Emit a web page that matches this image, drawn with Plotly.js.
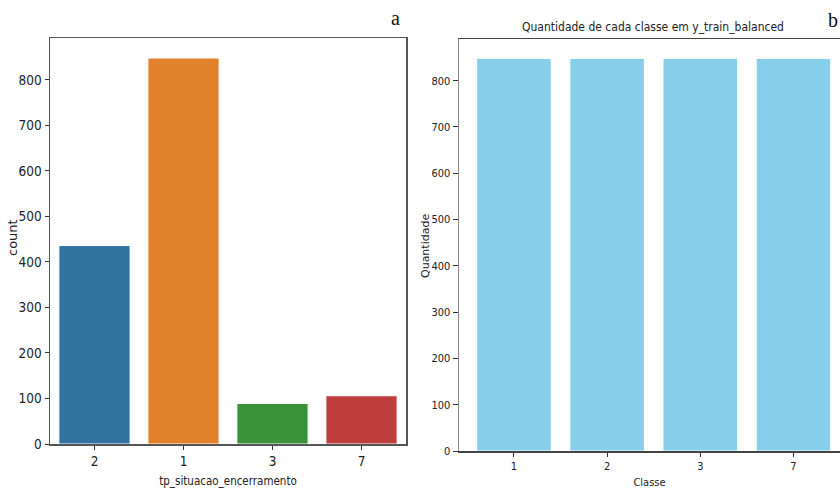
<!DOCTYPE html>
<html><head><meta charset="utf-8">
<script src="https://cdn.plot.ly/plotly-3.0.1.min.js"></script>
<style>body{margin:0;padding:0;background:#fff}#chart{width:840px;height:491px}</style>
</head><body><div id="chart"></div>
<script>
// Panel a: original class counts
const catsA = ['2', '1', '3', '7'];
const countsA = [436, 848, 89, 106];
const colorsA = ['#3274a1', '#e1812c', '#3a923a', '#c03d3e'];
// Panel b: balanced class counts
const catsB = ['1', '2', '3', '7'];
const countsB = [848, 848, 848, 848];
const colorB = '#87ceeb';
const yTicks = [0, 100, 200, 300, 400, 500, 600, 700, 800];

const FONT = '"Liberation Sans Narrow", "DejaVu Sans Condensed", "DejaVu Sans", sans-serif';

const traces = [
  {type: 'bar', x: catsA, y: countsA, marker: {color: colorsA, line: {color: '#ffffff', width: 1}},
   width: 0.8, xaxis: 'x', yaxis: 'y', hoverinfo: 'x+y'},
  {type: 'bar', x: catsB, y: countsB, marker: {color: colorB, line: {color: '#ffffff', width: 1}},
   width: 0.8, xaxis: 'x2', yaxis: 'y2', hoverinfo: 'x+y'}
];

const layout = {
  width: 840, height: 491,
  margin: {l: 0, r: 0, t: 0, b: 0},
  paper_bgcolor: '#ffffff', plot_bgcolor: '#ffffff',
  showlegend: false,
  font: {family: FONT, color: '#222'},
  xaxis: {
    domain: [50/840, 406/840], anchor: 'y', type: 'category', range: [-0.5, 3.5],
    showline: true, linecolor: '#555', linewidth: 1.5, mirror: true,
    ticks: 'outside', ticklen: 4, tickcolor: '#333', showgrid: false, zeroline: false,
    tickfont: {size: 13.5, family: FONT, color: '#222'},
    title: {text: 'tp_situacao_encerramento', font: {size: 11.5, family: FONT, color: '#222'}, standoff: 9}
  },
  yaxis: {
    domain: [(491-444)/491, (491-38)/491], anchor: 'x', range: [0, 892],
    tickvals: yTicks,
    showline: true, linecolor: '#555', linewidth: 1.5, mirror: true,
    ticks: 'outside', ticklen: 4, tickcolor: '#333', showgrid: false, zeroline: false,
    tickfont: {size: 13.5, family: FONT, color: '#222'}
  },
  xaxis2: {
    domain: [459/840, 1], anchor: 'y2', type: 'category', range: [-0.59, 3.5],
    showline: true, linecolor: '#444', linewidth: 1.5, mirror: true,
    ticks: 'outside', ticklen: 4, tickcolor: '#333', showgrid: false, zeroline: false,
    tickfont: {size: 11, family: FONT, color: '#222'},
    title: {text: 'Classe', font: {size: 11, family: FONT, color: '#222'}, standoff: 6}
  },
  yaxis2: {
    domain: [(491-451)/491, (491-39)/491], anchor: 'x2', range: [0, 890],
    tickvals: yTicks,
    showline: true, linecolor: '#888', linewidth: 1.5, mirror: false,
    ticks: 'outside', ticklen: 5, tickcolor: '#333', showgrid: false, zeroline: false,
    tickfont: {size: 11, family: FONT, color: '#222'}
  },
  annotations: [
    {text: 'count', xref: 'paper', yref: 'paper', x: 12/840, y: (491-238)/491, textangle: -90,
     xanchor: 'center', yanchor: 'middle', showarrow: false,
     font: {size: 13, family: 'DejaVu Sans', color: '#222'}},
    {text: 'Quantidade', xref: 'paper', yref: 'paper', x: 426/840, y: (491-246)/491, textangle: -90,
     xanchor: 'center', yanchor: 'middle', showarrow: false,
     font: {size: 11, family: 'DejaVu Sans', color: '#222'}},
    {text: 'Quantidade de cada classe em y_train_balanced', xref: 'paper', yref: 'paper',
     x: 653/840, y: (491-27)/491, xanchor: 'center', yanchor: 'middle', showarrow: false,
     font: {size: 12, family: FONT, color: '#222'}},
    {text: 'a', xref: 'paper', yref: 'paper', x: 395/840, y: (491-18)/491, xanchor: 'center', yanchor: 'middle',
     showarrow: false, font: {size: 20, family: 'Liberation Serif, DejaVu Serif, serif', color: '#111'}},
    {text: 'b', xref: 'paper', yref: 'paper', x: 833/840, y: (491-20)/491, xanchor: 'center', yanchor: 'middle',
     showarrow: false, font: {size: 20, family: 'Liberation Serif, DejaVu Serif, serif', color: '#111'}}
  ]
};

Plotly.newPlot('chart', traces, layout, {displayModeBar: false, staticPlot: true});
</script></body></html>
